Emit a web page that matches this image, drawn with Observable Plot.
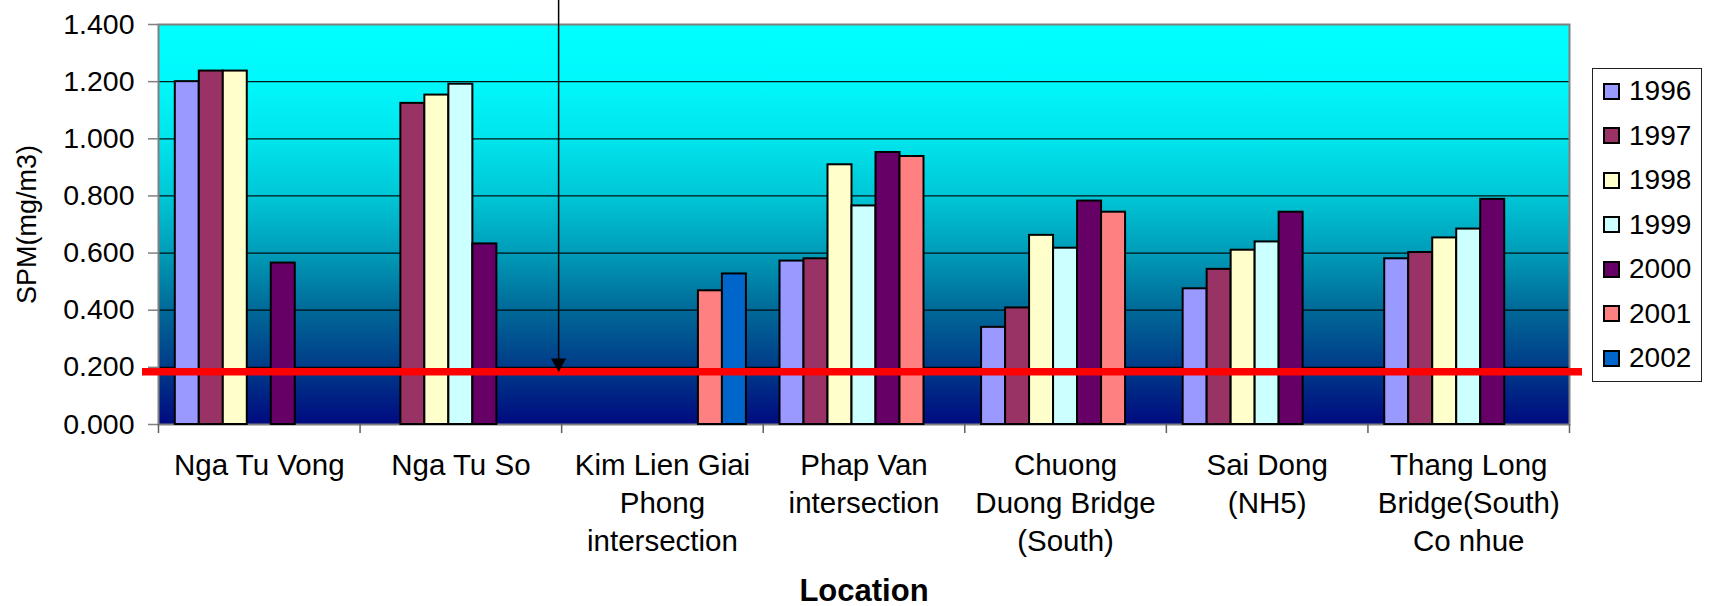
<!DOCTYPE html>
<html>
<head>
<meta charset="utf-8">
<script src="https://cdn.jsdelivr.net/npm/d3@7"></script>
<script src="https://cdn.jsdelivr.net/npm/@observablehq/plot@0.6"></script>
<style>
  html, body { margin: 0; padding: 0; background: #fff; overflow: hidden; }
  #chart { position: relative; width: 1709px; height: 606px; font-family: "Liberation Sans", Arial, sans-serif; }
  #legend {
    position: absolute; left: 1592px; top: 68px; width: 110px; height: 314px;
    box-sizing: border-box; border: 1px solid #222; background: #fff;
  }
  #legend .item { height: 44.5px; display: flex; align-items: center; font-size: 28px; color: #000; }
  #legend .sw { width: 13px; height: 13px; border: 2px solid #000; margin-left: 10px; margin-right: 9px; flex: none; }
</style>
</head>
<body>
<div id="chart"></div>
<script>
// Monitoring locations (tick labels wrap as in the printed chart)
const locations = [
  "Nga Tu Vong",
  "Nga Tu So",
  "Kim Lien Giai\nPhong\nintersection",
  "Phap Van\nintersection",
  "Chuong\nDuong Bridge\n(South)",
  "Sai Dong\n(NH5)",
  "Thang Long\nBridge(South)\nCo nhue"
];

const years = [1996, 1997, 1998, 1999, 2000, 2001, 2002];

// SPM (mg/m3) per location, one array per year; null = not measured
const spm1996 = [1.200, null, null, 0.572, 0.340, 0.475, 0.580];
const spm1997 = [1.237, 1.124, null, 0.580, 0.408, 0.543, 0.602];
const spm1998 = [1.237, 1.153, null, 0.909, 0.662, 0.610, 0.653];
const spm1999 = [null, 1.191, null, 0.765, 0.617, 0.639, 0.684];
const spm2000 = [0.565, 0.632, null, 0.952, 0.782, 0.743, 0.788];
const spm2001 = [null, null, 0.468, 0.938, 0.743, null, null];
const spm2002 = [null, null, 0.527, null, null, null, null];
const seriesValues = [spm1996, spm1997, spm1998, spm1999, spm2000, spm2001, spm2002];

const yTicks = [0, 0.2, 0.4, 0.6, 0.8, 1.0, 1.2, 1.4];

// Reference level line and the arrow pointing at it
const standardLevel = 0.185;
const arrowX = 1.985;     // location-axis units
const arrowTop = 1.485;   // starts above the plotting area

const yearColors = ["#9999ff", "#993366", "#ffffcc", "#ccffff", "#660066", "#ff8080", "#0066cc"];

// Long table of bars
const table = years.flatMap((year, j) =>
  seriesValues[j]
    .map((value, i) => ({index: i, location: locations[i], year, value}))
    .filter(d => d.value != null)
);

// Position of each year's bar inside a location group
const slot = d3.scaleBand().domain(years).range([0, 1]).paddingInner(0).paddingOuter(0.7);

const gradientStops = [
  [0.00, "#00ffff"],
  [0.14, "#00f8fb"],
  [0.29, "#00e4ec"],
  [0.43, "#00c6d6"],
  [0.57, "#009cb8"],
  [0.71, "#006a98"],
  [0.86, "#003a88"],
  [1.00, "#000a80"]
];

const backgroundDefs = () => {
  const defs = d3.create("svg:defs");
  const g = defs.append("linearGradient")
    .attr("id", "spm-bg")
    .attr("x1", 0).attr("y1", 0).attr("x2", 0).attr("y2", 1);
  for (const [o, c] of gradientStops) g.append("stop").attr("offset", o).attr("stop-color", c);
  return defs.node();
};

const plot = Plot.plot({
  width: 1709,
  height: 606,
  marginLeft: 158,
  marginRight: 140,
  marginTop: 24,
  marginBottom: 182,
  style: {fontFamily: "'Liberation Sans', Arial, sans-serif", fontSize: "28px", color: "#000", background: "transparent", overflow: "visible"},
  x: {domain: [0, locations.length], label: null},
  y: {domain: [0, 1.4], label: null},
  color: {domain: years, range: yearColors},
  marks: [
    backgroundDefs,
    Plot.frame({fill: "url(#spm-bg)", stroke: null}),
    Plot.gridY({ticks: yTicks.slice(1, -1), stroke: "#000", strokeOpacity: 0.9, strokeWidth: 1.2}),
    Plot.frame({stroke: "#808080", strokeWidth: 2}),
    Plot.rect(table, {
      x1: d => d.index + slot(d.year),
      x2: d => d.index + slot(d.year) + slot.bandwidth(),
      y1: 0,
      y2: "value",
      fill: "year",
      stroke: "#000",
      strokeWidth: 2
    }),
    Plot.ruleY([standardLevel], {stroke: "#ff0000", strokeWidth: 7.5, insetLeft: -16, insetRight: -13}),
    Plot.ruleX([arrowX], {x: d => d, y1: arrowTop, y2: standardLevel, stroke: "#000", strokeWidth: 1.5}),
    Plot.dot([arrowX], {x: d => d, y: standardLevel, symbol: "triangle", rotate: 180, r: 5.6, fill: "#000", stroke: null, dy: -8.7}),
    Plot.axisY({ticks: yTicks, tickFormat: d3.format(".3f"), tickSize: 10, tickPadding: 14, stroke: "#808080", strokeWidth: 1.5, fill: "#000", fontSize: 28.5, label: null}),
    Plot.axisX({ticks: d3.range(0, locations.length + 1), tickSize: 9, tickFormat: () => "", stroke: "#606060", strokeWidth: 1.5, label: null}),
    Plot.axisX({
      ticks: d3.range(0, locations.length).map(i => i + 0.5),
      tickSize: 0,
      tickPadding: 23,
      tickFormat: d => locations[Math.floor(d)],
      fontSize: 29.5,
      lineHeight: 1.29,
      fill: "#000",
      label: null
    }),
    Plot.text(["SPM(mg/m3)"], {frameAnchor: "left", textAnchor: "middle", text: d => d, rotate: -90, dx: -131, fontSize: 27, fill: "#000"}),
    Plot.text(["Location"], {frameAnchor: "bottom", textAnchor: "middle", text: d => d, dy: 176, fontSize: 31, fontWeight: "bold", fill: "#000"})
  ]
});

const chart = document.getElementById("chart");
chart.appendChild(plot);

// Legend box
const legend = d3.select(chart).append("div").attr("id", "legend");
const items = legend.selectAll(".item").data(years).join("div").attr("class", "item");
items.append("div").attr("class", "sw").style("background", (d, j) => yearColors[j]);
items.append("span").text(d => d);
</script>
</body>
</html>
